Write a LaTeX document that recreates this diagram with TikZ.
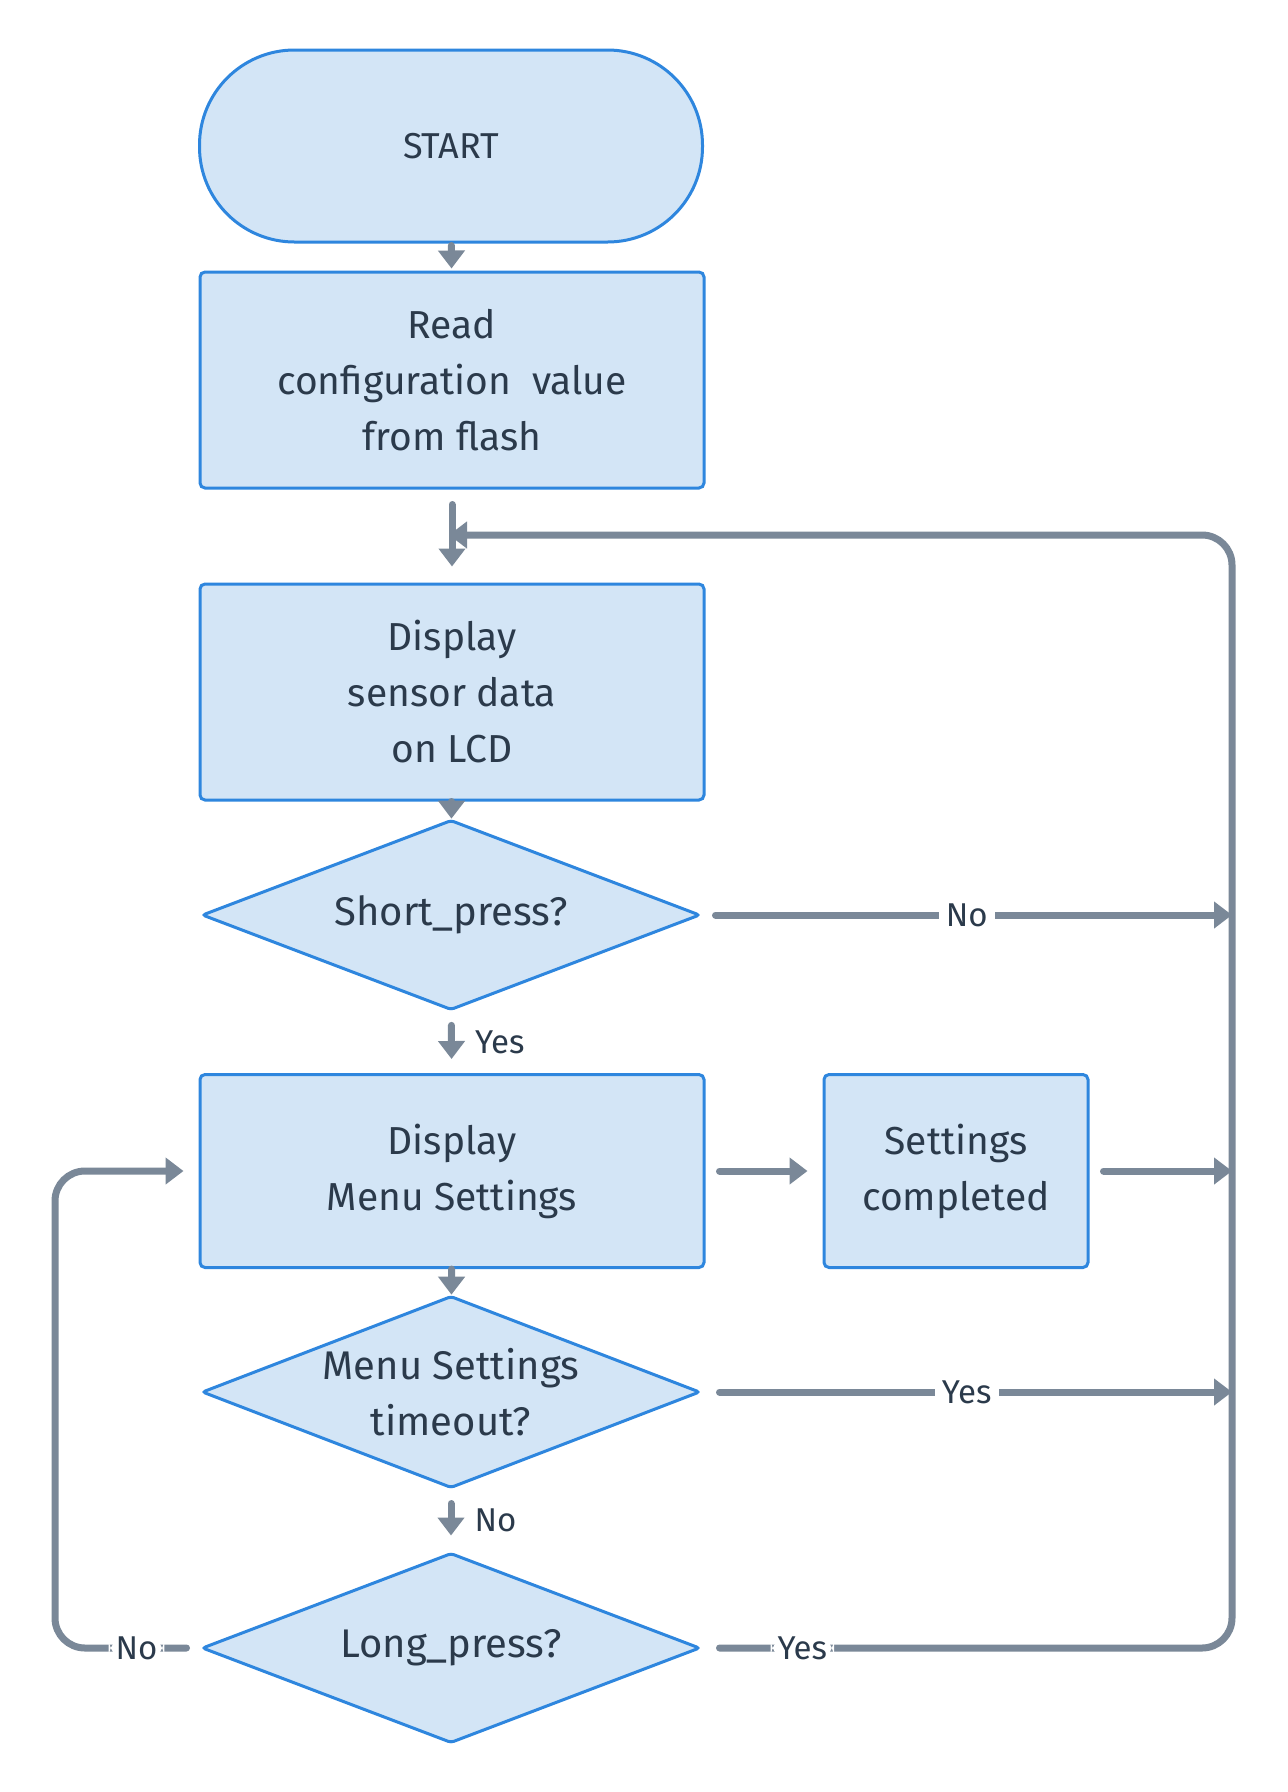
\documentclass[tikz,border=0pt]{standalone}
\usepackage{fontspec}
\setmainfont{Fira Sans}
\usetikzlibrary{arrows.meta,shapes.geometric}
\definecolor{linec}{HTML}{7A8898}
\definecolor{bordc}{HTML}{2E86DE}
\definecolor{fillc}{HTML}{D3E5F6}
\definecolor{txtc}{HTML}{2B3A4B}
\begin{document}
\begin{tikzpicture}[x=1pt,y=-1pt,
  every node/.style={text=txtc},
  box/.style={draw=bordc,fill=fillc,line width=3pt,rounded corners=5pt,
    minimum width=504pt,inner sep=0pt,align=center,
    font=\fontsize{39}{56}\selectfont},
  term/.style={draw=bordc,fill=fillc,line width=3pt,rounded corners=95pt,
    minimum width=503pt,minimum height=192pt,inner sep=0pt,
    font=\fontsize{36}{40}\selectfont},
  dia/.style={diamond,draw=bordc,fill=fillc,line width=3pt,
    minimum width=498pt,minimum height=190pt,aspect=2.62,inner sep=0pt,
    rounded corners=3pt,
    align=center,font=\fontsize{40}{56}\selectfont},
  conn/.style={draw=linec,line width=7pt,line cap=round,
    -{Triangle[length=18pt,width=26pt]}},
  lbl/.style={fill=white,inner sep=7pt,font=\fontsize{33}{36}\selectfont},
  sidelbl/.style={right=20pt,inner sep=0pt,font=\fontsize{33}{36}\selectfont}]
\useasboundingbox[fill=white] (0,0) rectangle (1288,1792);

\node[term] (start) at (451,146) {START};
\node[box,minimum height=216pt] (read) at (452,380)
  {Read\\configuration\ \ value\\from flash};
\node[box,minimum height=216pt] (disp) at (452,692)
  {Display\\sensor data\\on LCD};
\node[dia] (short) at (451,915) {Short\_press?};
\node[box,minimum height=193pt] (menu) at (452,1171)
  {Display\\Menu Settings};
\node[box,minimum width=264pt,minimum height=193pt] (done) at (956,1171)
  {Settings\\completed};
\node[dia,minimum height=192pt] (tout) at (451,1392)
  {Menu Settings\\timeout?};
\node[dia] (long) at (451,1648) {Long\_press?};

\coordinate (join) at (452,535);
\coordinate (rshort) at (1232,915);
\coordinate (rmenu) at (1232,1171);
\coordinate (rtout) at (1232,1392);
\coordinate (rlong) at (1232,1648);
\coordinate (lline) at (55,1648);

\draw[conn,shorten <=2pt,shorten >=2pt] (start) -- (read);
\draw[conn,shorten <=15pt,shorten >=16pt] (read) -- (disp);
\draw[conn] (disp) -- (short);
\draw[conn,shorten <=14pt,shorten >=14pt] (short) -- node[sidelbl]{Yes} (menu);
\draw[conn] (menu) -- (tout);
\draw[conn,shorten <=14pt,shorten >=16pt] (tout) -- node[sidelbl]{No} (long);
\draw[conn,shorten <=14pt,shorten >=15pt] (menu) -- (done);
\draw[conn,shorten <=14pt] (done.east) -- (rmenu);
\draw[conn,shorten <=14pt] (short.east) -- node[lbl]{No} (rshort);
\draw[conn,shorten <=18pt] (tout.east) -- node[lbl]{Yes} (rtout);
\draw[conn,rounded corners=30pt,shorten <=18pt,shorten >=-3pt]
  (long.east) -- node[lbl,pos=0.19]{Yes} (rlong) |- (join);
\draw[conn,rounded corners=30pt,shorten <=14pt,shorten >=15pt]
  (long.west) -- node[lbl,pos=0.44]{No} (lline) |- (menu.west);
\end{tikzpicture}
\end{document}
